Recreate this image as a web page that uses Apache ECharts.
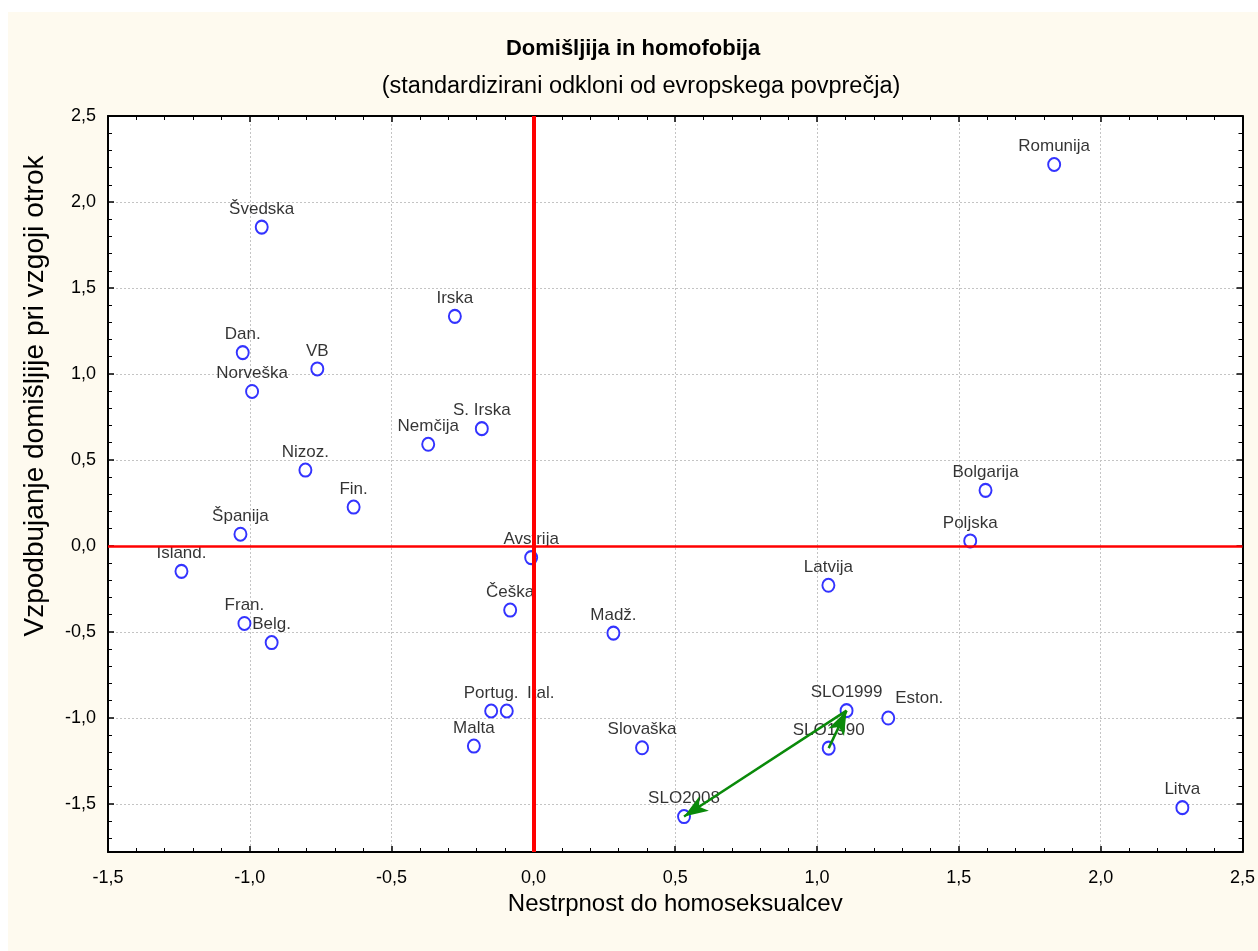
<!DOCTYPE html>
<html>
<head>
<meta charset="utf-8">
<title>Domišljija in homofobija</title>
<script src="https://cdn.jsdelivr.net/npm/echarts@6/dist/echarts.min.js"></script>
<style>
  html, body { margin: 0; padding: 0; background: #fff; }
  #frame { position: absolute; left: 8px; top: 12px; width: 1250px; height: 939px; background: #fefaef; }
  #chart { width: 1250px; height: 939px; }
</style>
</head>
<body>
<div id="frame"><div id="chart"></div></div>
<script>
// country labels and standardized deviations from the European average
const countries = ['Romunija', 'Švedska', 'Irska', 'Dan.', 'VB', 'Norveška', 'S. Irska', 'Nemčija',
  'Nizoz.', 'Fin.', 'Bolgarija', 'Poljska', 'Španija', 'Island.', 'Avstrija', 'Latvija', 'Češka',
  'Fran.', 'Belg.', 'Madž.', 'Portug.', 'Ital.', 'Malta', 'Slovaška', 'SLO1999', 'SLO1990',
  'Eston.', 'SLO2008', 'Litva']
// x: Nestrpnost do homoseksualcev
const intolerance = [1.836, -0.958, -0.277, -1.025, -0.762, -0.992, -0.182, -0.371,
  -0.804, -0.634, 1.594, 1.540, -1.033, -1.241, -0.008, 1.040, -0.082,
  -1.019, -0.923, 0.282, -0.149, -0.094, -0.210, 0.383, 1.104, 1.041,
  1.251, 0.531, 2.288]
// y: Vzpodbujanje domišljije pri vzgoji otrok
const imagination = [2.218, 1.854, 1.335, 1.124, 1.029, 0.898, 0.682, 0.591,
  0.441, 0.226, 0.323, 0.029, 0.068, -0.148, -0.068, -0.229, -0.373,
  -0.451, -0.562, -0.507, -0.960, -0.960, -1.164, -1.174, -0.958, -1.176,
  -1.001, -1.574, -1.522]
// Slovenia over time: 1990 -> 1999 -> 2008
const trajectory = [['SLO1990', 'SLO1999'], ['SLO1999', 'SLO2008']]

const xTicks = { min: -1.5, max: 2.5, step: 0.5 }
const yTicks = { min: -1.78, max: 2.5, step: 0.5 }

// labels that are nudged sideways so they don't collide
const labelShift = { 'Ital.': [34, 0], 'Eston.': [31, -2] }

const FONT = "'Liberation Sans', Arial, sans-serif"

function comma(v) {
  const k = v / 0.5
  if (Math.abs(k - Math.round(k)) > 1e-6) return ''
  return v.toFixed(1).replace('.', ',')
}

function coordOf(name) {
  const i = countries.indexOf(name)
  return [intolerance[i], imagination[i]]
}

const points = countries.map((name, i) => {
  const item = { name: name, value: [intolerance[i], imagination[i]] }
  if (labelShift[name]) item.label = { offset: labelShift[name] }
  return item
})

const frameAxis = {
  axisLine: { show: true, onZero: false, lineStyle: { color: '#000', width: 2 } },
  axisTick: { show: true, inside: true, length: 6, lineStyle: { color: '#000', width: 1.5 } },
  minorTick: { show: true, splitNumber: 5, length: 4, lineStyle: { color: '#000', width: 1 } },
  splitLine: { show: false }
}

const chart = echarts.init(document.getElementById('chart'))
chart.setOption({
  backgroundColor: 'transparent',
  animation: false,
  title: {
    text: 'Domišljija in homofobija',
    left: 'center',
    top: 26,
    padding: 0,
    textStyle: { fontFamily: FONT, fontSize: 22, fontWeight: 'bold', color: '#000' }
  },
  graphic: [
    {
      type: 'text',
      x: 633,
      y: 75,
      style: {
        text: '(standardizirani odkloni od evropskega povprečja)',
        font: '23.5px ' + FONT,
        fill: '#000',
        textAlign: 'center',
        textVerticalAlign: 'middle'
      }
    },
    {
      type: 'text',
      x: 27,
      y: 384,
      rotation: Math.PI / 2,
      style: {
        text: 'Vzpodbujanje domišljije pri vzgoji otrok',
        font: '28px ' + FONT,
        fill: '#000',
        textAlign: 'center',
        textVerticalAlign: 'middle'
      }
    }
  ],
  grid: {
    left: 100,
    top: 104,
    width: 1135,
    height: 736,
    show: true,
    backgroundColor: '#fff',
    borderWidth: 0
  },
  xAxis: [
    Object.assign({}, frameAxis, {
      type: 'value',
      position: 'bottom',
      min: xTicks.min,
      max: xTicks.max,
      interval: xTicks.step,
      splitLine: { show: true, lineStyle: { color: '#c4c4c4', type: [2, 2], width: 1 } },
      axisLabel: { formatter: comma, fontFamily: FONT, fontSize: 18, color: '#000', margin: 17 },
      name: 'Nestrpnost do homoseksualcev',
      nameLocation: 'middle',
      nameGap: 36,
      nameTextStyle: { fontFamily: FONT, fontSize: 24, color: '#000' }
    }),
    Object.assign({}, frameAxis, {
      type: 'value',
      position: 'top',
      min: xTicks.min,
      max: xTicks.max,
      interval: xTicks.step,
      axisLabel: { show: false }
    })
  ],
  yAxis: [
    Object.assign({}, frameAxis, {
      type: 'value',
      position: 'left',
      min: yTicks.min,
      max: yTicks.max,
      minInterval: yTicks.step,
      maxInterval: yTicks.step,
      splitNumber: 9,
      splitLine: { show: true, lineStyle: { color: '#c4c4c4', type: [2, 2], width: 1 } },
      axisLabel: { formatter: comma, fontFamily: FONT, fontSize: 18, color: '#000', margin: 12 }
    }),
    Object.assign({}, frameAxis, {
      type: 'value',
      position: 'right',
      min: yTicks.min,
      max: yTicks.max,
      minInterval: yTicks.step,
      maxInterval: yTicks.step,
      splitNumber: 9,
      axisLabel: { show: false }
    })
  ],
  series: [
    {
      name: 'countries',
      type: 'scatter',
      symbol: 'emptyCircle',
      symbolSize: [12, 13],
      data: points,
      itemStyle: { color: '#0000ff', borderColor: '#0000ff', borderWidth: 1.3 },
      label: {
        show: true,
        position: 'top',
        distance: 2,
        formatter: '{b}',
        fontFamily: FONT,
        fontSize: 17,
        color: '#000'
      },
      emphasis: { disabled: true },
      z: 3
    },
    {
      name: 'zero lines',
      type: 'scatter',
      data: [],
      markLine: {
        silent: true,
        symbol: 'none',
        label: { show: false },
        data: [
          { xAxis: 0, lineStyle: { color: '#ff0000', width: 4, type: 'solid' } },
          { yAxis: 0, lineStyle: { color: '#ff0000', width: 2.5, type: 'solid' } }
        ]
      },
      z: 4
    },
    {
      name: 'SLO trajectory',
      type: 'scatter',
      data: [],
      markLine: {
        silent: true,
        symbol: 'none',
        label: { show: false },
        lineStyle: { color: '#0a8a0a', width: 2.5, type: 'solid' },
        data: trajectory.map(pair => [
          { coord: coordOf(pair[0]) },
          { coord: coordOf(pair[1]), symbol: 'arrow', symbolSize: [13, 24] }
        ])
      },
      z: 5
    }
  ]
})
</script>
</body>
</html>
